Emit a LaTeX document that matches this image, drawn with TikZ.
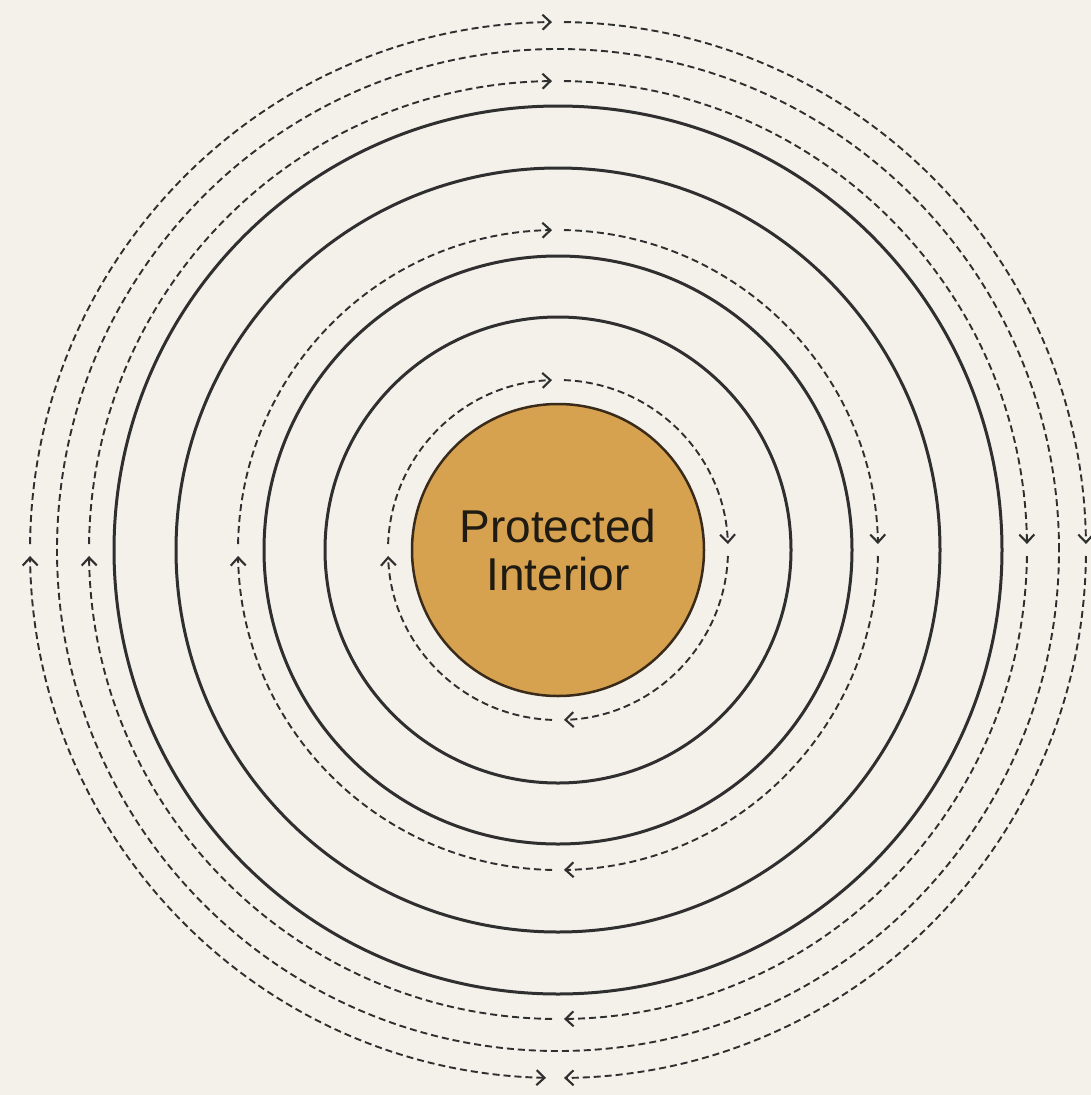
\documentclass[tikz,border=0pt]{standalone}
\usepackage{fontspec}
\setsansfont{Liberation Sans}
\usetikzlibrary{arrows.meta}
\definecolor{paper}{HTML}{F3F1EA}
\definecolor{ink}{HTML}{2F2F2F}
\definecolor{corefill}{HTML}{D6A24F}
\definecolor{coreedge}{HTML}{3A2A1A}
\definecolor{label}{HTML}{1F1A12}
\tikzset{
  ring/.style={draw=ink, line width=3pt},
  flow/.style={draw=ink, line width=1.9pt, dash pattern=on 7pt off 4pt},
  tiphead/.style={Straight Barb[length=8pt,width=15pt,line width=2.1pt]},
  barb/.style={-{Straight Barb[length=8pt,width=15pt,line width=2.1pt]}},
  dbarb/.style={{Straight Barb[length=8pt,width=15pt,line width=2.1pt]}-{Straight Barb[length=8pt,width=15pt,line width=2.1pt]}},
}
% one circulating dashed loop: four clockwise arcs, each ending in a barb
\newcommand{\flowloop}[1]{%
  \pgfmathsetmacro{\da}{6/#1*57.2958}%
  \foreach \t in {90,0,-90,-180}{
    \draw[flow,barb] ([shift={(\t+90-\da:#1)}]core.center)
      arc[start angle=\t+90-\da, end angle=\t+\da, radius=#1];
  }%
}
\begin{document}
\begin{tikzpicture}[x=1pt,y=1pt]
\fill[paper] (0,0) rectangle (1091,-1095);
\useasboundingbox (0,0) rectangle (1091,-1095);

% protected core
\node[circle, fill=corefill, draw=coreedge, line width=2.5pt,
      minimum size=292pt, inner sep=0pt, align=center,
      font=\sffamily\fontsize{46}{48}\selectfont, text=label]
  (core) at (558,-550) {Protected\\Interior};

% solid barrier rings
\foreach \r in {233,294,382,444}
  \draw[ring] (core.center) circle[radius=\r];

% circulating flows
\flowloop{170}
\flowloop{320}
\flowloop{469}
\draw[flow] (core.center) circle[radius=501];

% outermost flow: lower-left arc carries barbs at both ends
\pgfmathsetmacro{\db}{6/528*57.2958}
\draw[flow,barb] ([shift={(180-\db:528)}]core.center)
  arc[start angle=180-\db, end angle=90+\db, radius=528];
\draw[flow,barb] ([shift={(90-\db:528)}]core.center)
  arc[start angle=90-\db, end angle=\db, radius=528];
\draw[flow,barb] ([shift={(-\db:528)}]core.center)
  arc[start angle=-\db, end angle=-90+\db, radius=528];
\draw[flow,dbarb] ([shift={(-90-2*\db:528)}]core.center)
  arc[start angle=-90-2*\db, end angle=-180+\db, radius=528];
\end{tikzpicture}
\end{document}
